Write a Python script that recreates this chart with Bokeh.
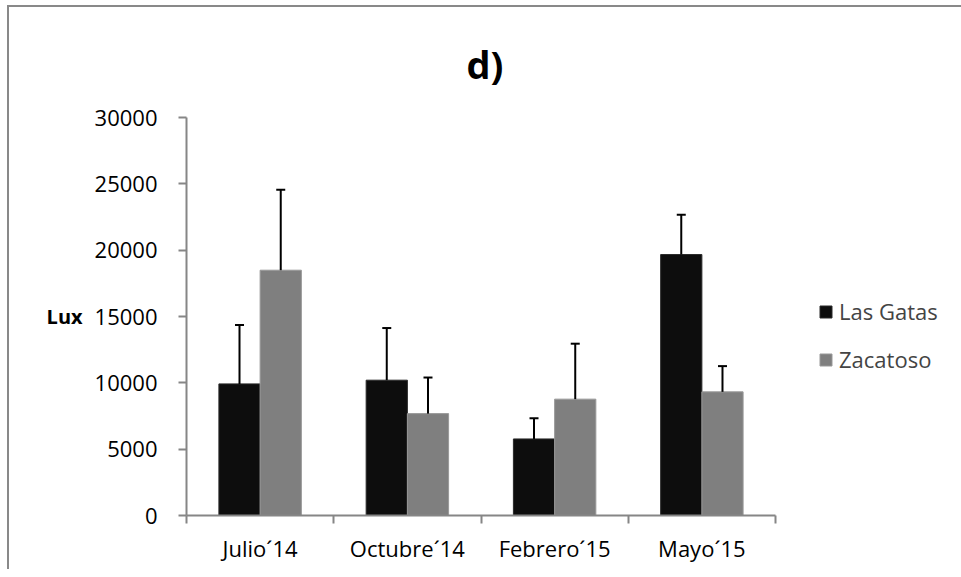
import numpy as np
from bokeh.plotting import figure
from bokeh.models import (ColumnDataSource, Whisker, TeeHead, Legend, LegendItem,
                          FixedTicker, Range1d)
from bokeh.embed import file_html
from bokeh.resources import INLINE

# ---- data ----
categories = ["Julio´14", "Octubre´14", "Febrero´15", "Mayo´15"]
series_names = ["Las Gatas", "Zacatoso"]
las_gatas = [9920, 10200, 5770, 19670]
las_gatas_err = [4440, 3930, 1560, 3000]
zacatoso = [18490, 7680, 8770, 9320]
zacatoso_err = [6070, 2720, 4180, 1940]
y_ticks = [0, 5000, 10000, 15000, 20000, 25000, 30000]
title_text = "d)"
y_label = "Lux"

FONT = "Open Sans"
AXIS_COLOR = "#868686"

n = len(categories)
centers = np.arange(n) + 0.5
bar_w = 0.28

p = figure(frame_width=589, frame_height=398, output_backend="svg", toolbar_location=None,
           x_range=Range1d(0, n), y_range=Range1d(y_ticks[0], y_ticks[-1]),
           min_border_left=177, min_border_right=178, min_border_top=110,
           min_border_bottom=54)
p.styles = {"border-top": "2px solid #898989", "border-left": "2px solid #898989",
            "margin-left": "7px", "margin-top": "5px"}
p.outline_line_color = None
p.grid.visible = False
p.background_fill_color = "white"
p.border_fill_color = "white"

# title
p.title.text = title_text
p.title.text_font = FONT
p.title.text_font_size = "38px"
p.title.text_font_style = "bold"
p.title.align = "left"
p.title.offset = 280
p.title.standoff = 55
p.title.text_color = "black"

src_lg = ColumnDataSource(dict(x=centers - bar_w / 2, top=las_gatas,
                               upper=np.array(las_gatas) + np.array(las_gatas_err)))
src_z = ColumnDataSource(dict(x=centers + bar_w / 2, top=zacatoso,
                              upper=np.array(zacatoso) + np.array(zacatoso_err)))

r_lg = p.vbar(x="x", top="top", width=bar_w, source=src_lg, fill_color="#0d0d0d",
              line_color="#2a2a2a", line_width=1)
r_z = p.vbar(x="x", top="top", width=bar_w, source=src_z, fill_color="#7f7f7f",
             line_color="#999999", line_width=1)

for src in (src_lg, src_z):
    w = Whisker(base="x", lower="top", upper="upper", source=src,
                line_color="black", line_width=2,
                upper_head=TeeHead(size=9, line_color="black", line_width=2),
                lower_head=None, level="annotation")
    p.add_layout(w)

# axes
xa = p.xaxis[0]
xa.ticker = FixedTicker(ticks=list(centers), minor_ticks=list(range(n + 1)))
xa.major_label_overrides = {float(c): lab for c, lab in zip(centers, categories)}
xa.major_tick_out = 0
xa.major_tick_in = 0
xa.minor_tick_out = 8
xa.minor_tick_in = 0
xa.minor_tick_line_color = AXIS_COLOR
xa.axis_line_color = AXIS_COLOR
xa.axis_line_width = 2
xa.minor_tick_line_width = 2
xa.major_label_text_font = FONT
xa.major_label_text_font_size = "22px"
xa.major_label_text_color = "black"
xa.major_label_standoff = 9

ya = p.yaxis[0]
ya.ticker = FixedTicker(ticks=y_ticks)
ya.minor_tick_line_color = None
ya.major_tick_out = 8
ya.major_tick_in = 0
ya.major_tick_line_color = AXIS_COLOR
ya.major_tick_line_width = 2
ya.axis_line_color = AXIS_COLOR
ya.axis_line_width = 2
ya.major_label_text_font = FONT
ya.major_label_text_font_size = "22px"
ya.major_label_text_color = "black"
ya.major_label_standoff = 21
ya.axis_label = y_label
ya.axis_label_orientation = "horizontal"
ya.axis_label_text_font = FONT
ya.axis_label_text_font_size = "20px"
ya.axis_label_text_font_style = "bold"
ya.axis_label_text_color = "black"
ya.axis_label_standoff = 9

legend = Legend(items=[LegendItem(label=series_names[0], renderers=[r_lg]),
                       LegendItem(label=series_names[1], renderers=[r_z])],
                location=(43, 141), orientation="vertical",
                label_text_font=FONT, label_text_font_size="22px",
                glyph_width=15, glyph_height=15, label_standoff=6,
                label_height=30, spacing=18, padding=0, margin=0,
                border_line_color=None, background_fill_alpha=0)
p.add_layout(legend, "right")

open("out.html", "w").write(file_html(p, INLINE))
